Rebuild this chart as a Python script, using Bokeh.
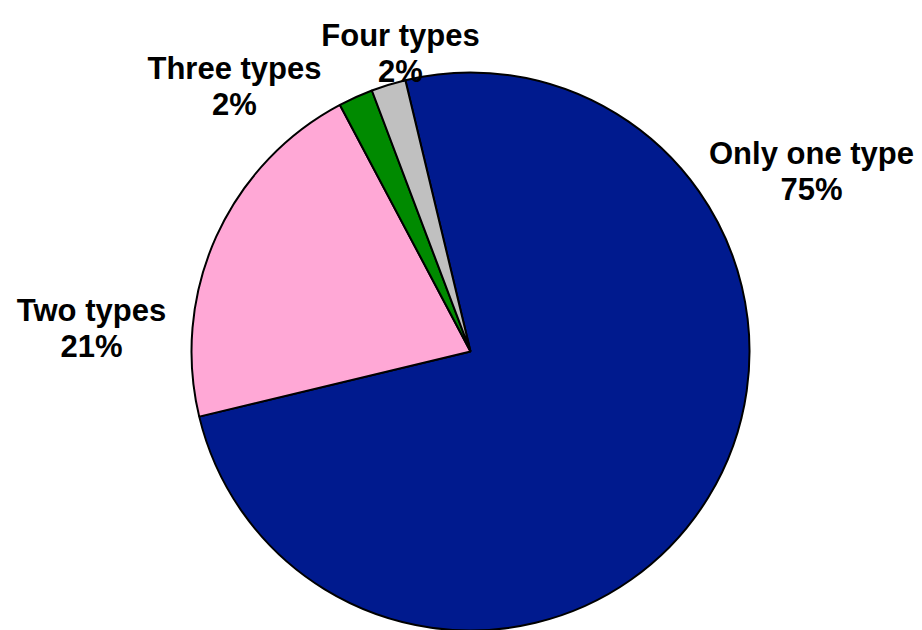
import math
from bokeh.plotting import figure
from bokeh.models import ColumnDataSource, Range1d
from bokeh.core.properties import value
from bokeh.embed import file_html
from bokeh.resources import INLINE

# data
categories = ["Only one type", "Two types", "Three types", "Four types"]
values = [75, 21, 2, 2]
colors = ["#001A8E", "#FFA8D6", "#008A00", "#C0C0C0"]

# styling / layout
W, H = 922, 630
cx, cy, r = 470, 630 - 351, 279
first_angle_deg = -13.5  # clockwise from 12 o'clock
label_pos = [(811, 153), (91, 310), (234, 68), (400, 35)]  # (x, baseline y) in pixels from top
line_gap = 36

total = sum(values)
starts, ends = [], []
acc = first_angle_deg
for v in values:
    a0 = acc
    a1 = acc + v / total * 360.0
    starts.append(math.radians(90 - a0))
    ends.append(math.radians(90 - a1))
    acc = a1

src = ColumnDataSource(dict(x=[cx] * len(values), y=[cy] * len(values),
                            start=starts, end=ends, color=colors))

p = figure(width=W, height=H, output_backend="svg", toolbar_location=None,
           x_range=Range1d(0, W), y_range=Range1d(0, H), min_border=0)
p.axis.visible = False
p.grid.visible = False
p.outline_line_color = None
p.background_fill_color = "white"

p.wedge(x="x", y="y", radius=r, start_angle="start", end_angle="end",
        direction="clock", fill_color="color", line_color="black",
        line_width=2, source=src)

pct = [f"{round(v / total * 100)}%" for v in values]
tx, ty1, ty2 = [], [], []
for (lx, ly) in label_pos:
    tx.append(lx)
    ty1.append(H - ly)
    ty2.append(H - ly - line_gap)
lsrc = ColumnDataSource(dict(x=tx + tx, y=ty1 + ty2, t=categories + pct))
p.text(x="x", y="y", text="t", source=lsrc, text_align="center",
       text_baseline="alphabetic", text_font=value("Liberation Sans"),
       text_font_style="bold", text_font_size="31px", text_color="black")

open("out.html", "w").write(file_html(p, INLINE))
